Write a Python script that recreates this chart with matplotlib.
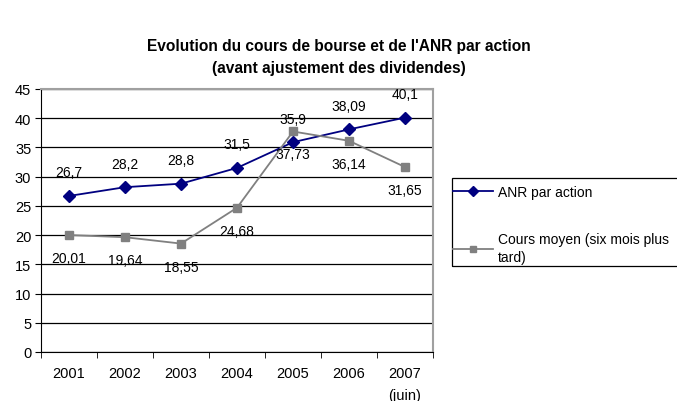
import matplotlib.pyplot as plt
import matplotlib.patches as mpatches
import numpy as np

plt.rcParams['font.family'] = ['Liberation Sans', 'DejaVu Sans']

years = ['2001', '2002', '2003', '2004', '2005', '2006', '2007\n(juin)']
anr = [26.7, 28.2, 28.8, 31.5, 35.9, 38.09, 40.1]
cours = [20.01, 19.64, 18.55, 24.68, 37.73, 36.14, 31.65]

W, H = 677, 402
fig = plt.figure(figsize=(W / 100, H / 100), dpi=100)
ax = fig.add_axes([41 / W, 1 - 353 / H, 392 / W, 263 / H])

x = np.arange(len(years))
l1, = ax.plot(x, anr, '-', color='#000080', marker='D', markersize=6, linewidth=1.3,
              label='ANR par action')
l2, = ax.plot(x, cours, '-', color='#808080', marker='s', markersize=6, linewidth=1.3,
              label='Cours moyen (six mois plus\ntard)')

def fmt(v):
    return f'{v:g}'.replace('.', ',')

# data labels: ANR above the points, cours below
for xi, v in zip(x, anr):
    ax.annotate(fmt(v), (xi, v), xytext=(0, 17), textcoords='offset points',
                ha='center', va='center', fontsize=10)
for xi, v in zip(x, cours):
    ax.annotate(fmt(v), (xi, v), xytext=(0, -16.5), textcoords='offset points',
                ha='center', va='center', fontsize=10)

ax.set_xlim(-0.5, len(years) - 0.5)
ax.set_ylim(0, 45)
ax.set_yticks(range(0, 46, 5))
ax.set_xticks(x)
ax.set_xticklabels(years, fontsize=10.5, va='top', linespacing=1.75)
ax.set_xticks(np.arange(-0.5, len(years), 1), minor=True)
ax.tick_params(axis='x', which='major', length=0, pad=10)
ax.tick_params(axis='x', which='minor', length=4, direction='out', color='black')
ax.tick_params(axis='y', length=4, direction='out', labelsize=10.5, pad=3)
ax.yaxis.grid(True, color='black', linewidth=0.9)
ax.set_axisbelow(True)

for side in ['top', 'right']:
    ax.spines[side].set_color('#a0a0a0')
    ax.spines[side].set_linewidth(1.5)
ax.spines['left'].set_color('black')
ax.spines['bottom'].set_color('black')

fig.text(0.5, 1 - 46 / H, "Evolution du cours de bourse et de l'ANR par action",
         ha='center', va='center', fontsize=11.2, fontweight='bold')
fig.text(0.5, 1 - 68 / H, "(avant ajustement des dividendes)",
         ha='center', va='center', fontsize=11.2, fontweight='bold')

# legend box runs past the right edge in the original
frame = mpatches.Rectangle((452 / W, 1 - 267 / H), 240 / W, 88 / H,
                           transform=fig.transFigure, fill=False,
                           edgecolor='black', linewidth=0.9)
fig.patches.append(frame)
leg = fig.legend(handles=[l1, l2], loc='upper left',
                 bbox_to_anchor=(446 / W, 1 - 179 / H), fontsize=10,
                 frameon=False, borderaxespad=0,
                 labelspacing=2.4, handlelength=2.9, handletextpad=0.35,
                 borderpad=0.5, markerscale=0.8)
for t in leg.get_texts():
    t.set_linespacing(1.35)

plt.savefig('out.png', dpi=100)
